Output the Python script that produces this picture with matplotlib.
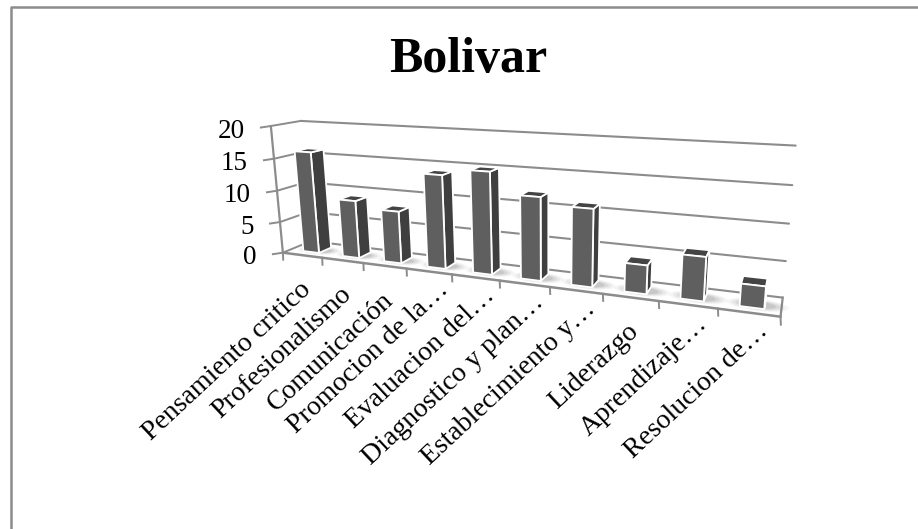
import numpy as np
import matplotlib
matplotlib.use("Agg")
import matplotlib.pyplot as plt
from matplotlib.patches import Polygon
from matplotlib.transforms import Transform
from matplotlib.path import Path

title = "Bolivar"
categories = ["Pensamiento critico", "Profesionalismo", "Comunicación", "Promocion de la…",
              "Evaluacion del…", "Diagnostico y plan…", "Establecimiento y…", "Liderazgo",
              "Aprendizaje…", "Resolucion de…"]
values = [16, 9, 8, 14, 15, 12, 11, 4, 6, 3]
y_ticks = [0, 5, 10, 15, 20]

W, H = 918, 529
plt.rcParams["font.family"] = ["Liberation Serif", "DejaVu Serif"]

# camera of the 3D box: (category, value, depth) -> picture pixels, fitted to the box corners
world = np.array([[0, 0, 0], [10, 0, 0], [0, 0, 1], [10, 0, 1], [0, 20, 1], [10, 20, 1], [0, 20, 0],
                  [5, 0, 0], [5, 0, 1], [5, 20, 1], [0, 10, 1], [10, 10, 1]], float)
pix = np.array([[282, 253], [780, 315], [311, 240], [783, 295], [302, 120], [796, 147], [270, 127],
                [502, 280.5], [516, 271], [515, 131], [307, 181], [790, 224]], float)
rows = []
for (a, b, c), (u, v) in zip(world, pix):
    rows.append([a, b, c, 1, 0, 0, 0, 0, -u * a, -u * b, -u * c, -u])
    rows.append([0, 0, 0, 0, a, b, c, 1, -v * a, -v * b, -v * c, -v])
CAM = np.linalg.svd(np.array(rows))[2][-1].reshape(3, 4)


class Box(Transform):
    """(category position, value) at a fixed depth -> display pixels."""
    input_dims = output_dims = 2
    is_affine = False

    def __init__(self, dz):
        super().__init__()
        self.dz = dz

    def transform_non_affine(self, xy):
        xy = np.asarray(xy, float)
        h = np.c_[xy[:, 0], xy[:, 1], np.full(len(xy), self.dz), np.ones(len(xy))] @ CAM.T
        return np.c_[h[:, 0] / h[:, 2], H - h[:, 1] / h[:, 2]]

    def transform_path_non_affine(self, path):
        return Path(self.transform_non_affine(path.vertices), path.codes)


fig = plt.figure(figsize=(W / 100, H / 100), dpi=100)
ax = fig.add_axes([0, 0, 1, 1])
ax.set_xlim(0, W)
ax.set_ylim(H, 0)
ax.set_autoscale_on(False)
ax.axis("off")

FRONT, BACK = Box(0), Box(1)
GRID = "#8c8c8c"


def line(xs, ys, tr, lw=1.6, color=GRID, z=2):
    ax.plot(xs, ys, color=color, lw=lw, transform=tr, clip_on=False, zorder=z, solid_capstyle="round")


# chart frame (cropped at the right and at the bottom of the picture)
ax.plot([10.5, 10.5, W], [H, 6.8, 6.8], color="#8c8c8c", lw=1.8, zorder=1)

# gridlines on the back wall, with the wall-side step down to the front axis
for t in y_ticks:
    line([0, 10], [t, t], BACK, lw=1.5)
    a, b = FRONT.transform([[0, t]])[0], BACK.transform([[0, t]])[0]
    ax.plot([a[0], b[0]], [H - a[1], H - b[1]], color=GRID, lw=1.4, zorder=2)
    ax.plot([a[0] - 10, a[0]], [H - a[1] + 1.5, H - a[1]], color=GRID, lw=1.4, zorder=2)
    ax.text(a[0] - 26, H - a[1] + 5, str(t), ha="right", va="center", fontsize=19.5, color="black")

# side and floor edges
line([0, 0], [0, 20], FRONT)
line([0, 10], [0, 0], FRONT, lw=1.8)
fr, br = FRONT.transform([[10, 0]])[0], BACK.transform([[10, 0]])[0]
ax.plot([fr[0], br[0]], [H - fr[1], H - br[1]], color=GRID, lw=1.6, zorder=2)

# category ticks and labels
for i, name in enumerate(categories):
    p = FRONT.transform([[i, 0]])[0]
    ax.plot([p[0], p[0] + .3], [H - p[1], H - p[1] + 7], color=GRID, lw=1.4, zorder=2)
for i, name in enumerate(categories):
    p = FRONT.transform([[i + 0.5, 0]])[0]
    dx, dy = (16, 15) if name.endswith("…") else (5, 31)
    ax.text(p[0] + dx, H - p[1] + dy, name, rotation=43, rotation_mode="anchor", ha="right", va="center",
            fontsize=20, color="black")
p = FRONT.transform([[10, 0]])[0]
ax.plot([p[0], p[0] + .3], [H - p[1], H - p[1] + 8], color=GRID, lw=1.4, zorder=2)

# bars
d0, d1 = 0.27, 0.72
hw = 0.2
for i, v in enumerate(values):
    c = i + 0.53
    l, r = c - hw, c + hw
    # soft floor shadow, kept on the floor
    for k, a in zip([2.2, 1.9, 1.6, 1.3], [.06, .08, .10, .13]):
        pts = []
        for th in np.linspace(0, 2 * np.pi, 40):
            pts.append(((c + .08) + k * hw * 1.15 * np.cos(th), 0.5 * (d0 + d1) - .04 + k * .14 * np.sin(th)))
        xy = np.array([Box(dd).transform([[x, 0]])[0] for x, dd in pts])
        ax.fill(xy[:, 0], H - xy[:, 1], color="#555555", alpha=a, lw=0, zorder=3)
    z = 4 + (10 - i) * 0.01
    F0, B0 = Box(d0), Box(d1)
    pf = F0.transform([[l, 0], [r, 0], [r, v], [l, v]])
    pb = B0.transform([[l, 0], [r, 0], [r, v], [l, v]])
    edge = dict(edgecolor="white", lw=1.3, joinstyle="round", zorder=z)
    # right side, top, front
    side = np.array([pf[1], pb[1], pb[2], pf[2]])
    top = np.array([pf[3], pf[2], pb[2], pb[3]])
    for poly, col in ((side, "#3f3f3f"), (top, "#444444"), (pf, "#5f5f5f")):
        ax.add_patch(Polygon(np.c_[poly[:, 0], H - poly[:, 1]], closed=True, facecolor=col, **edge))

ax.text(468.5, 72, title, ha="center", va="baseline", fontsize=36, fontweight="bold", color="black")

fig.savefig("out.png", dpi=100, facecolor="white")
